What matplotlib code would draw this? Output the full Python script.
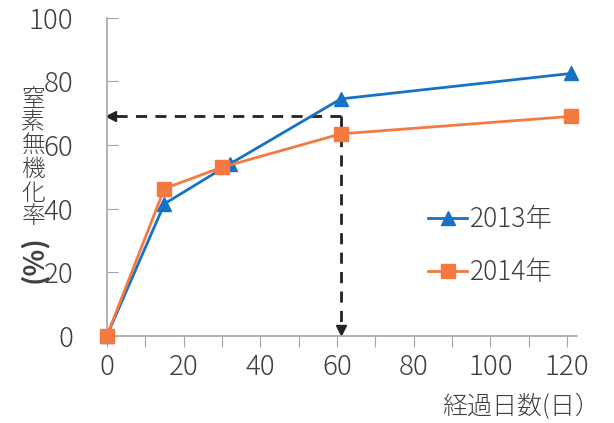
import numpy as np
import matplotlib.pyplot as plt

plt.rcParams['font.family'] = ['Noto Sans CJK JP', 'DejaVu Sans']
plt.rcParams['font.weight'] = 'light'

# donnees
jours2013 = [0, 15, 32, 61, 121]
taux2013 = [0, 41.5, 54, 74.5, 82.5]
jours2014 = [0, 15, 30, 61, 121]
taux2014 = [0, 46.3, 53, 63.5, 69]
seriesNoms = ['2013年', '2014年']
xTicks = [0, 20, 40, 60, 80, 100, 120]
yTicks = [0, 20, 40, 60, 80, 100]
yTitre = '窒素無機化率'
# point repere pour les fleches
repereX, repereY = 61, 69

bleu = '#1672c4'
orange = '#f47a42'
gris = '#404040'
axeGris = '#a6a6a6'

fig = plt.figure(figsize=(6.14, 4.23), dpi=100)
ax = fig.add_axes([0.174, 0.206, 0.766, 0.752])

ax.plot(jours2013, taux2013, color=bleu, lw=2, marker='^', ms=10,
        label=seriesNoms[0], clip_on=False, zorder=3)
ax.plot(jours2014, taux2014, color=orange, lw=2, marker='s', ms=10,
        label=seriesNoms[1], clip_on=False, zorder=4)

# fleches en pointilles
ax.plot([repereX, 1.5], [repereY, repereY], color='#222222', lw=2,
        ls=(0, (4, 3)), zorder=2)
ax.plot([1.2], [repereY], marker='<', color='#222222', ms=7, zorder=2)
ax.plot([repereX, repereX], [repereY, 2.5], color='#222222', lw=2,
        ls=(0, (4, 3)), zorder=2)
ax.plot([repereX], [1.8], marker='v', color='#222222', ms=7, zorder=2)

ax.set_xlim(0, 122.6)
ax.set_ylim(0, 100)
ax.set_xticks(np.arange(0, 121, 10))
ax.set_xticklabels([str(t) if t in xTicks else '' for t in range(0, 121, 10)])
ax.set_yticks(yTicks)

for s in ['top', 'right']:
    ax.spines[s].set_visible(False)
for s in ['left', 'bottom']:
    ax.spines[s].set_color(axeGris)
    ax.spines[s].set_linewidth(1.2)

ax.tick_params(axis='x', direction='out', length=8, color=axeGris,
               labelsize=20, labelcolor=gris, pad=4)
ax.tick_params(axis='y', direction='in', length=8, color=axeGris,
               labelsize=20, labelcolor=gris, pad=24)

# titre de l'axe y, caracteres empiles un par un
for i, c in enumerate(yTitre):
    fig.text(0.054, 1 - (99 + 23.5 * i) / 423, c, fontsize=17, color=gris,
             ha='center', va='center')
fig.text(0.054, 1 - 259 / 423, '(%)', fontsize=20, color=gris, ha='center',
         va='center', rotation=90, fontweight='bold')
fig.text(0.978, 0.008, '経過日数(日）', fontsize=18, color=gris,
         ha='right', va='bottom')

ax.legend(loc='upper left', bbox_to_anchor=(0.66, 0.445), frameon=False,
          fontsize=19, labelcolor=gris, handlelength=1.5, handletextpad=0.1,
          labelspacing=0.95, borderaxespad=0)

plt.savefig('out.png', dpi=100)
